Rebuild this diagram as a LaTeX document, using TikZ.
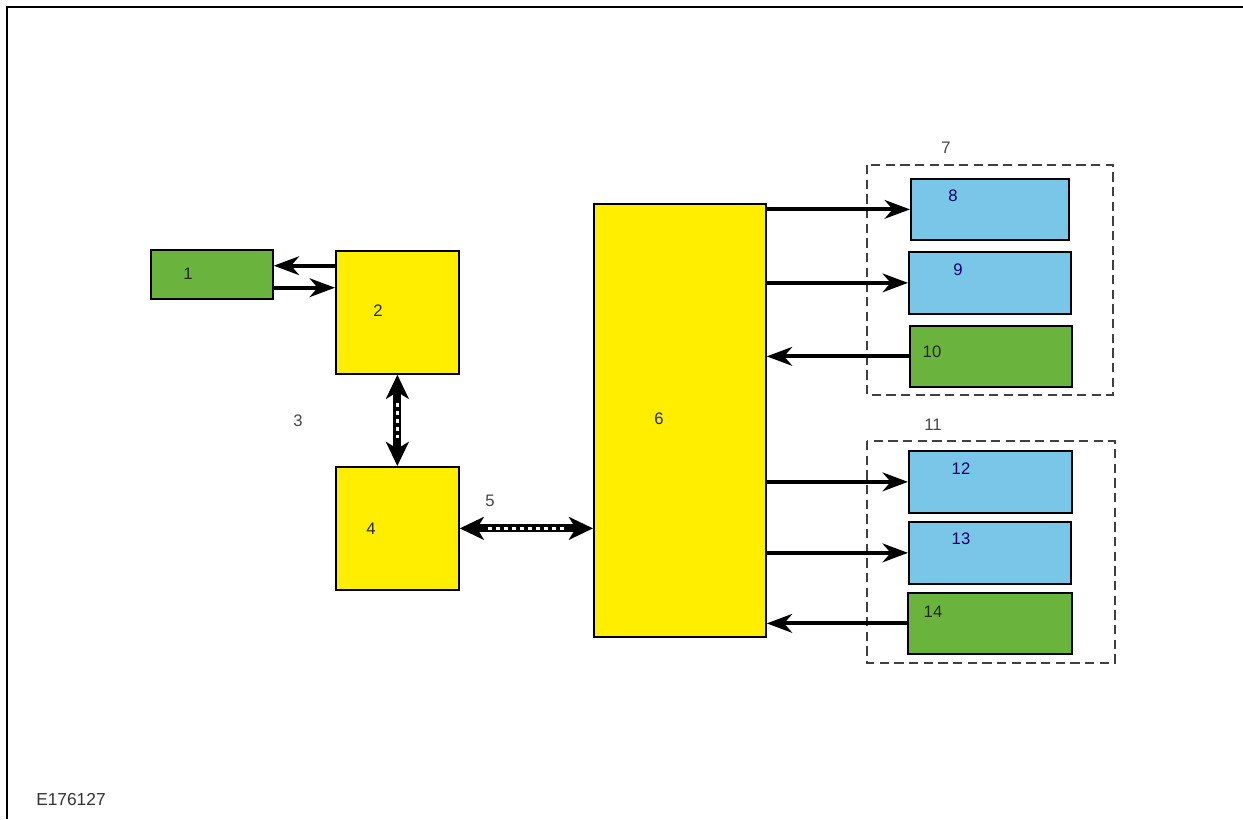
\documentclass[tikz,border=0pt]{standalone}
\usepackage{fontspec}
\setmainfont{Liberation Sans}
\usetikzlibrary{positioning,arrows.meta,calc}
\definecolor{ecuyellow}{RGB}{255,238,0}
\definecolor{modblue}{RGB}{122,198,232}
\definecolor{modgreen}{RGB}{106,180,62}
\definecolor{grptext}{RGB}{70,70,70}

\begin{document}
\begin{tikzpicture}[
  x=0.75pt, y=-0.75pt,
  font=\fontsize{12.5}{15}\selectfont,
  box/.style={draw, line width=1.3pt, inner sep=0pt, anchor=north west},
  yel/.style={box, fill=ecuyellow},
  blu/.style={box, fill=modblue},
  grn/.style={box, fill=modgreen},
  num/.style={inner sep=0pt, text=black!85},
  tag/.style={inner sep=0pt, text=grptext},
  grp/.style={draw=black!75, line width=1.3pt, dash pattern=on 7pt off 4pt},
  arr/.style={line width=3pt, -{Stealth[length=19pt, width=14pt, inset=6pt]}},
  bus/.style={line width=6pt, {Stealth[length=18pt, width=17pt, inset=5pt]}-{Stealth[length=18pt, width=17pt, inset=5pt]}},
  busdash/.style={white, line width=2.6pt, dash pattern=on 3.5pt off 2.5pt, shorten <=21pt, shorten >=21pt}
]
\useasboundingbox (0,0) rectangle (1243,819);
\draw[line width=1.5pt] (7,819) -- (7,7) -- (1243,7);

% module groups
\draw[grp] (867,165) rectangle (1113,395);
\draw[grp] (867,441) rectangle (1115,663);
\node[tag] (t7) at (946,148) {7};
\node[tag] (t11) at (933,425) {11};

% blocks
\node[grn, minimum width=91.5pt, minimum height=36.75pt] (b1) at (150,249) {};
\node[yel, minimum width=92.25pt, minimum height=92.25pt] (b2) at (335,250) {};
\node[yel, minimum width=92.25pt, minimum height=92.25pt] (b4) at (335,466) {};
\node[yel, minimum width=129pt, minimum height=324.75pt] (b6) at (593,203) {};
\node[blu, minimum width=118.5pt, minimum height=45.75pt] (b8) at (910,178) {};
\node[blu, minimum width=121.5pt, minimum height=46.5pt] (b9) at (908,251) {};
\node[grn, minimum width=121.5pt, minimum height=45.75pt] (b10) at (909,325) {};
\node[blu, minimum width=122.25pt, minimum height=46.5pt] (b12) at (908,450) {};
\node[blu, minimum width=121.5pt, minimum height=46.5pt] (b13) at (908,521) {};
\node[grn, minimum width=123pt, minimum height=45.75pt] (b14) at (907,592) {};

% numbers
\node[num] (n1) at (188,274) {1};
\node[num] (n2) at (378,311) {2};
\node[tag] (n3) at (298,421) {3};
\node[num] (n4) at (371,529) {4};
\node[tag] (n5) at (490,501) {5};
\node[num] (n6) at (659,419) {6};
\node[num, text=blue!40!black] (n8) at (953,196) {8};
\node[num, text=blue!40!black] (n9) at (958,270) {9};
\node[num] (n10) at (932,352) {10};
\node[num, text=blue!40!black] (n12) at (961,469) {12};
\node[num, text=blue!40!black] (n13) at (961,539) {13};
\node[num] (n14) at (933,612) {14};
\node[tag, anchor=west, text=black!80, font=\fontsize{13}{15}\selectfont] (code) at (36,800) {E176127};

% connections
\coordinate (p12) at ([yshift=6.5pt]b1.east);
\coordinate (p21) at ([yshift=-10pt]b1.east);
\draw[arr] (b2.west |- p12) -- (p12);
\draw[arr] (p21) -- (b2.west |- p21);
\draw[bus] (b2) -- (b4);
\draw[busdash] (b2) -- (b4);
\draw[bus] (b4.east) -- (b6.west |- b4.east);
\draw[busdash] (b4.east) -- (b6.west |- b4.east);
\draw[arr] (b6.east |- b8) -- (b8);
\draw[arr] (b6.east |- b9) -- (b9);
\draw[arr] (b10) -- (b6.east |- b10);
\draw[arr] (b6.east |- b12) -- (b12);
\draw[arr] (b6.east |- b13) -- (b13);
\draw[arr] (b14) -- (b6.east |- b14);
\end{tikzpicture}
\end{document}
